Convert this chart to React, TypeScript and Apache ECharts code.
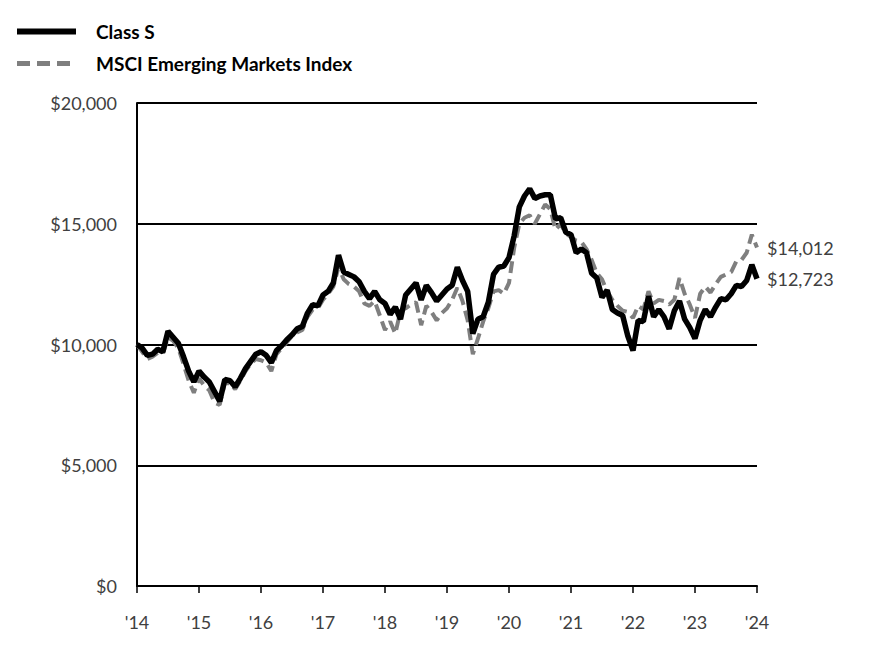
import React, { useEffect, useRef } from "react";
import * as echarts from "echarts";

const yearLabels = ["'14", "'15", "'16", "'17", "'18", "'19", "'20", "'21", "'22", "'23", "'24"];

// monthly points, Jan 2014 .. Jan 2024 (121 points)
const classS = [
  10000, 9850, 9550, 9600, 9800, 9700, 10550, 10300, 10050, 9500, 8900, 8450,
  8900, 8650, 8450, 8050, 7650, 8550, 8500, 8250, 8600, 9000, 9300, 9600,
  9700, 9550, 9250, 9750, 9950, 10200, 10400, 10650, 10750, 11300, 11650, 11600,
  12050, 12200, 12550, 13700, 13000, 12900, 12800, 12600, 12200, 11900, 12200, 11850,
  11700, 11250, 11550, 11050, 12050, 12300, 12550, 11850, 12450, 12150, 11800, 12050,
  12300, 12450, 13200, 12650, 12200, 10450, 11050, 11150, 11750, 12900, 13200, 13250,
  13600, 14500, 15700, 16150, 16450, 16050, 16150, 16200, 16200, 15200, 15250, 14650,
  14550, 13800, 13950, 13800, 12950, 12750, 11950, 12250, 11450, 11300, 11200, 10350,
  9750, 11000, 10950, 12000, 11150, 11450, 11150, 10650, 11400, 11800, 11050, 10700,
  10250, 11000, 11450, 11150, 11550, 11900, 11850, 12100, 12450, 12400, 12650, 13300,
  12723,
];

const msciEM = [
  10000, 9700, 9400, 9500, 9650, 9600, 10300, 10150, 9850, 9200, 8500, 8000,
  8600, 8300, 8100, 7600, 7500, 8400, 8400, 8150, 8500, 8900, 9200, 9400,
  9350, 9250, 8900, 9600, 9850, 10100, 10350, 10500, 10600, 11150, 11450, 11500,
  11850, 12100, 12400, 13200, 12700, 12500, 12400, 12200, 11700, 11600, 11800, 11200,
  10600, 10950, 10450, 11400, 11500, 11650, 11750, 10800, 11600, 11350, 11000, 11300,
  11500, 11850, 12350, 11800, 11000, 9600, 10250, 10950, 11500, 12200, 12250, 12100,
  12550, 14000, 15000, 15250, 15350, 15000, 15400, 15800, 15600, 14750, 15000, 14600,
  14450, 14300, 14250, 13950, 13500, 12950, 12700, 12200, 11850, 11600, 11400, 11350,
  11100, 11600, 11450, 12200, 11700, 11850, 11800, 11650, 11850, 12750, 12100, 11650,
  11100, 12100, 12400, 12150, 12500, 12800, 12900, 13000, 13450, 13500, 13800, 14550,
  14012,
];

const months: string[] = [];
for (let y = 2014; y <= 2024; y++) {
  for (let m = 1; m <= 12; m++) {
    if (y === 2024 && m > 1) break;
    months.push(`${y}-${String(m).padStart(2, "0")}`);
  }
}

const FONT = "Lato";

export default function App() {
  const ref = useRef<HTMLDivElement>(null);
  useEffect(() => {
    if (!ref.current) return;
    const chart = echarts.init(ref.current, null, { renderer: "svg" });
    const fmt = (v: number) => "$" + Math.round(v).toLocaleString("en-US");
    chart.setOption({
      animation: false,
      backgroundColor: "#ffffff",
      textStyle: { fontFamily: FONT },
      legend: {
        orient: "vertical",
        left: 1,
        top: 9,
        itemWidth: 59,
        itemHeight: 14,
        itemGap: 13,
        itemStyle: { opacity: 0 },
        textStyle: { fontFamily: FONT, fontSize: 19, fontWeight: "bold", color: "#000", padding: [0, 0, 0, 15] },
        data: [
          { name: "Class S", lineStyle: { width: 6, color: "#000" } },
          { name: "MSCI Emerging Markets Index", lineStyle: { width: 5, color: "#7f7f7f", type: [13, 7] } },
        ],
      },
      grid: { left: 129, right: 111, top: 95, bottom: 78, containLabel: false },
      xAxis: {
        type: "category",
        data: months,
        boundaryGap: false,
        axisLine: { lineStyle: { color: "#000", width: 2 } },
        axisTick: {
          show: true,
          length: 7,
          interval: (i: number) => i % 12 === 0,
          lineStyle: { color: "#000", width: 1.5 },
        },
        axisLabel: {
          interval: (i: number) => i % 12 === 0,
          formatter: (_v: string, i: number) => yearLabels[i / 12] ?? "",
          fontFamily: FONT,
          fontSize: 18,
          color: "#404040",
          margin: 27,
        },
        splitLine: { show: false },
      },
      yAxis: {
        type: "value",
        min: 0,
        max: 20000,
        interval: 5000,
        axisLine: { show: true, lineStyle: { color: "#000", width: 2 } },
        axisTick: { show: false },
        axisLabel: {
          formatter: fmt,
          fontFamily: FONT,
          fontSize: 18,
          color: "#404040",
          margin: 20,
        },
        splitLine: { show: true, lineStyle: { color: "#000", width: 2 } },
      },
      series: [
        {
          name: "MSCI Emerging Markets Index",
          type: "line",
          data: msciEM,
          symbol: "none",
          z: 2,
          lineStyle: { color: "#7f7f7f", width: 4, type: [12, 6] },
          itemStyle: { color: "#7f7f7f" },
          endLabel: {
            show: true,
            formatter: (p: any) => fmt(p.value),
            fontFamily: FONT,
            fontSize: 18,
            color: "#404040",
            distance: 10,
            offset: [0, 0],
          },
        },
        {
          name: "Class S",
          type: "line",
          data: classS,
          symbol: "none",
          z: 3,
          lineStyle: { color: "#000", width: 5.5 },
          itemStyle: { color: "#000" },
          endLabel: {
            show: true,
            formatter: (p: any) => fmt(p.value),
            fontFamily: FONT,
            fontSize: 18,
            color: "#404040",
            distance: 10,
            offset: [0, 0],
          },
        },
      ],
    });
    return () => chart.dispose();
  }, []);
  return <div ref={ref} style={{ width: 860, height: 656 }} />;
}
